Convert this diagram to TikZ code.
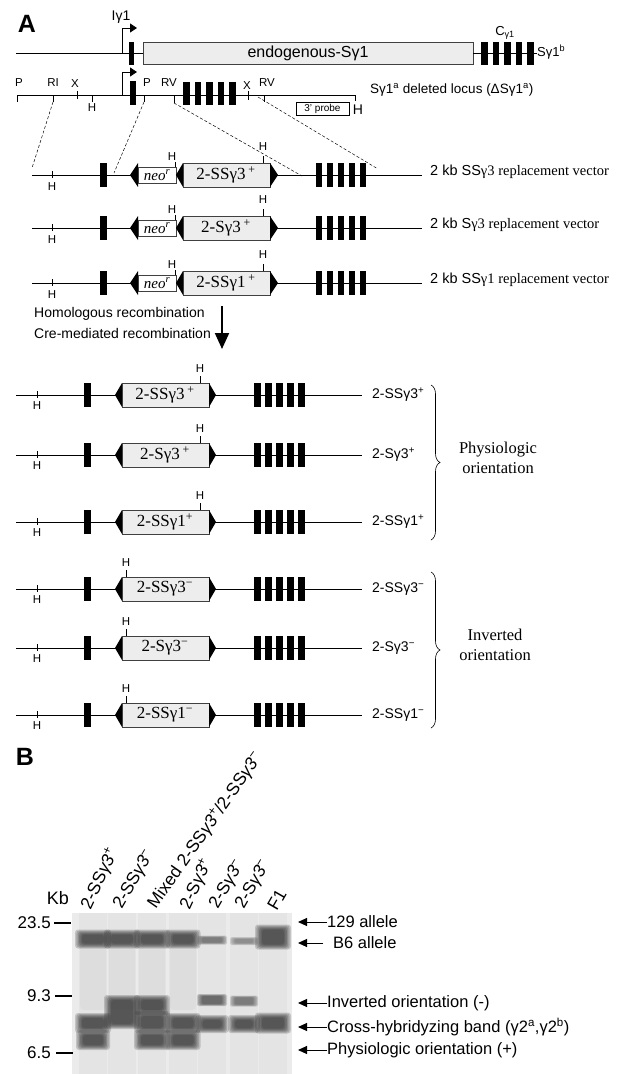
\documentclass[tikz,border=0pt]{standalone}
\usepackage{fontspec}
\setmainfont{Liberation Sans}
\newfontfamily\serf{Liberation Serif}
\usetikzlibrary{arrows.meta,decorations.pathreplacing}
\newcommand\myfs[1]{\fontsize{#1}{#1}\selectfont}
\definecolor{gelbg}{gray}{0.92}
\definecolor{lanec}{gray}{0.895}
\definecolor{smearc}{gray}{0.86}
\definecolor{bandc}{gray}{0.15}
\definecolor{boxg}{gray}{0.93}
\tikzset{
 ln/.style={line width=0.8pt},
 tck/.style={line width=0.6pt},
 gbox/.style={draw=black!75, fill=boxg, line width=0.7pt},
 nbox/.style={draw=black!75, fill=white, line width=0.7pt},
 sm/.style={inner sep=0pt, font=\myfs{11.5}},
 prom/.style={line width=0.8pt, -{Triangle[length=7pt,width=9pt]}},
 dsh/.style={dash pattern=on 3pt off 2pt, line width=0.5pt},
 gelarrow/.style={line width=1pt, -{Triangle[length=9pt,width=8pt]}},
 lane/.style={rotate=60, anchor=south west, inner sep=0pt, font=\myfs{17.5}},
 glab/.style={anchor=west, inner sep=0pt, font=\myfs{16.5}},
}
\newcommand\vrow[4]{%
\begin{scope}[yshift=-#1pt]
 \draw[ln] (32,0) -- (422,0);
 \draw[tck] (52,-4) -- (52,3);
 \node[sm] (#4h1) at (52,12) {H};
 \fill (100,-12) rectangle (107,12);
 \fill (130,0) -- (138,-12) -- (138,12) -- cycle;
 \draw[nbox] (138,-8) rectangle (176,8);
 \node[inner sep=0pt] (#4neo) at (157,0) {\serf\itshape\myfs{15}neo\textsuperscript{r}};
 \fill (176,0) -- (183,-12) -- (183,12) -- cycle;
 \draw[gbox] (183,-12) rectangle (270,12);
 \node[inner sep=0pt] (#4box) at (226,0) {\serf\myfs{17}#2};
 \fill (270,-12) -- (278,0) -- (270,12) -- cycle;
 \draw[tck] (175,-8) -- (175,-13);
 \node[sm] (#4h2) at (172,-18) {H};
 \draw[tck] (263,-12) -- (263,-19);
 \node[sm] (#4h3) at (263,-28) {H};
 \foreach \k in {0,...,4} \fill ({316+11*\k},-12) rectangle +(6,24);
 \node[anchor=west, inner sep=0pt] (#4lab) at (430,-3) {\myfs{14.5}#3};
\end{scope}}
\newcommand\orow[5]{%
\begin{scope}[yshift=-#1pt]
 \draw[ln] (16,0) -- (362,0);
 \draw[tck] (37,-4) -- (37,3);
 \node[sm] (#5h1) at (37,11) {H};
 \fill (84,-12) rectangle (91,12);
 \fill (115,0) -- (122,-12) -- (122,12) -- cycle;
 \draw[gbox] (122,-12) rectangle (209,12);
 \node[inner sep=0pt] (#5box) at (165,0) {\serf\myfs{17}#2};
 \fill (209,-12) -- (216,0) -- (209,12) -- cycle;
 \draw[tck] (#4,-12) -- (#4,-19);
 \node[sm] (#5h2) at (#4,-26) {H};
 \foreach \k in {0,...,4} \fill ({254+11*\k},-12) rectangle +(6.5,24);
 \node[anchor=west, inner sep=0pt] (#5lab) at (372,0) {\myfs{14}#3};
\end{scope}}
% soft gel band: x, y, width, height, colour
\newcommand\band[5]{%
 \foreach \i in {0,...,5}
  \fill[#5, opacity=0.2, rounded corners=3pt] ({#1-#3/2-4+1.4*\i},{#2-#4/2-3+\i}) rectangle ({#1+#3/2+4-1.4*\i},{#2+#4/2+3-\i});
}
\newcommand\wband[5]{%
 \foreach \i in {0,...,4}
  \fill[#5, opacity=0.2, rounded corners=1.5pt] ({#1-#3/2-3+1.2*\i},{#2-#4/2-2+0.5*\i}) rectangle ({#1+#3/2+3-1.2*\i},{#2+#4/2+2-0.5*\i});
}
\begin{document}
\begin{tikzpicture}[x=1pt,y=-1pt]
\useasboundingbox (0,0) rectangle (636,1074);

% ---------- Part A ----------
\node[font=\bfseries\myfs{25}, inner sep=0pt] (A) at (27,24) {A};

% endogenous locus
\draw[ln] (16,53) -- (129,53);
\fill (129,42) rectangle (134,65);
\draw[ln] (134,53) -- (143,53);
\draw[gbox] (143,42) rectangle (473,64);
\node[inner sep=0pt] (endo) at (308,53) {\myfs{16}endogenous-Sγ1};
\draw[ln] (473,53) -- (537,53);
\foreach \k in {0,...,4} \fill ({481+11.5*\k},42) rectangle +(6.5,23);
\node[anchor=west, inner sep=0pt] (sg1b) at (537,52) {\myfs{13}Sγ1\textsuperscript{b}};
\node[inner sep=0pt] (cg1) at (505,33) {\myfs{13}C\textsubscript{γ1}};
\coordinate (p1) at (122,53);
\coordinate (p1t) at (137,28);
\draw[prom] (p1) |- (p1t);
\node[inner sep=0pt] (ig1) at (121,17) {\myfs{14}Iγ1};

% deleted locus
\draw[ln] (17,95) -- (355,95);
\draw[tck] (17,95) -- (17,102);
\draw[tck] (53,95) -- (53,102);
\draw[tck] (77,91) -- (77,99);
\draw[tck] (92,95) -- (92,102);
\draw[tck] (144,95) -- (144,102);
\draw[tck] (174,95) -- (174,103);
\draw[tck] (248,91) -- (248,100);
\draw[tck] (264,95) -- (264,102);
\draw[tck] (355,95) -- (355,101);
\node[sm] (lP1) at (19,83) {P};
\node[sm] (lRI) at (53,83) {RI};
\node[sm] (lX1) at (75,84) {X};
\node[sm] (lH1) at (92,108) {H};
\node[sm] (lP2) at (147,83) {P};
\node[sm] (lRV1) at (169,83) {RV};
\node[sm] (lX2) at (247,86) {X};
\node[sm] (lRV2) at (267,83) {RV};
\coordinate (p2) at (122,95);
\coordinate (p2t) at (137,72);
\draw[prom] (p2) |- (p2t);
\fill (130,81) rectangle (136,105);
\foreach \k in {0,...,4} \fill ({183+11.6*\k},82) rectangle +(6.5,23);
\draw[line width=0.6pt] (296,102) rectangle (349,115);
\node[inner sep=0pt] (probe) at (322.5,108.5) {\myfs{10}3' probe};
\node[inner sep=0pt] (hprobe) at (358,110) {\myfs{14}H};
\node[anchor=west, inner sep=0pt] (dellab) at (370,90) {\myfs{13.5}Sγ1\textsuperscript{a} deleted locus (ΔSγ1\textsuperscript{a})};

% dashed homology lines
\coordinate (d1a) at (53,102); \coordinate (d1b) at (32,168);
\coordinate (d2a) at (144,102); \coordinate (d2b) at (114,173);
\coordinate (d3a) at (174,103); \coordinate (d3b) at (302,176);
\coordinate (d4a) at (258,97); \coordinate (d4b) at (378,169);
\draw[dsh] (d1a) -- (d1b);
\draw[dsh] (d2a) -- (d2b);
\draw[dsh] (d3a) -- (d3b);
\draw[dsh] (d4a) -- (d4b);

% replacement vectors
\vrow{175}{2-SSγ3\,\textsuperscript{+}}{2 kb SS{\serf γ3 replacement vector}}{va}
\vrow{228}{2-Sγ3\,\textsuperscript{+}}{2 kb S{\serf γ3 replacement vector}}{vb}
\vrow{283}{2-SSγ1\,\textsuperscript{+}}{2 kb SS{\serf γ1 replacement vector}}{vc}

% recombination arrow
\node[anchor=west, inner sep=0pt] (hom) at (34,314) {\myfs{14}Homologous recombination};
\node[anchor=west, inner sep=0pt] (cre) at (34,333) {\myfs{14}Cre-mediated recombination};
\coordinate (ra) at (222,306);
\coordinate (rb) at (222,349);
\draw[line width=2pt, -{Triangle[length=16pt,width=14pt]}] (ra) -- (rb);

% resulting alleles
\orow{395}{2-SSγ3\,\textsuperscript{+}}{2-SSγ3\textsuperscript{+}}{200}{pa}
\orow{455}{2-Sγ3\,\textsuperscript{+}}{2-Sγ3\textsuperscript{+}}{200}{pb}
\orow{522}{2-SSγ1\textsuperscript{+}}{2-SSγ1\textsuperscript{+}}{200}{pc}
\orow{589}{2-SSγ3\textsuperscript{−}}{2-SSγ3\textsuperscript{−}}{126}{ia}
\orow{648}{2-Sγ3\textsuperscript{−}}{2-Sγ3\textsuperscript{−}}{126}{ib}
\orow{715}{2-SSγ1\textsuperscript{−}}{2-SSγ1\textsuperscript{−}}{126}{ic}

\draw[decorate, decoration={brace, amplitude=9pt}, line width=0.6pt] (431,385) -- (431,540);
\draw[decorate, decoration={brace, amplitude=9pt}, line width=0.6pt] (431,572) -- (431,728);
\node[align=center, inner sep=0pt, font=\serf\myfs{16.5}] (phys) at (498,458) {Physiologic\\[4pt]orientation};
\node[align=center, inner sep=0pt, font=\serf\myfs{16.5}] (inv) at (495,645) {Inverted\\[4pt]orientation};

% ---------- Part B ----------
\node[font=\bfseries\myfs{25}, inner sep=0pt] (B) at (25,757) {B};
\fill[gelbg] (72,913) rectangle (292,1074);
\foreach \x in {93,122,152,183,212,244,273} \fill[lanec] ({\x-14},913) rectangle ({\x+14},1074);
\foreach \x in {93,122,152,183} \fill[smearc, opacity=0.7, rounded corners=4pt] ({\x-13},944) rectangle ({\x+13},1010);

% B6 / 129 bands
\band{93}{939}{28}{13}{bandc}
\band{122}{939}{28}{13}{bandc}
\band{152}{939}{28}{13}{bandc}
\band{183}{939}{27}{13}{bandc}
\wband{212}{940}{24}{5}{black!70}
\wband{244}{941}{22}{4}{black!60}
\band{273}{937}{28}{19}{bandc}
% lower bands
\band{93}{1023}{28}{14}{bandc}
\band{93}{1040}{26}{14}{bandc}
\band{122}{1012}{28}{28}{bandc}
\band{152}{1005}{28}{14}{bandc}
\band{152}{1022}{28}{16}{bandc}
\band{152}{1040}{28}{14}{bandc}
\band{183}{1023}{27}{14}{bandc}
\band{183}{1040}{27}{14}{bandc}
\wband{212}{1000}{24}{8}{black!80}
\wband{244}{1001}{22}{7}{black!70}
\band{212}{1024}{25}{12}{bandc}
\band{244}{1024}{24}{12}{bandc}
\band{273}{1023}{28}{15}{bandc}

% size markers
\node[inner sep=0pt] (kb) at (58,898) {\myfs{18}Kb};
\node[anchor=east, inner sep=0pt] (m235) at (51,923) {\myfs{17}23.5};
\node[anchor=east, inner sep=0pt] (m93) at (51,996) {\myfs{17}9.3};
\node[anchor=east, inner sep=0pt] (m65) at (51,1053) {\myfs{17}6.5};
\draw[line width=1.6pt] (54,923) -- (71,923);
\draw[line width=1.6pt] (55,996) -- (72,996);
\draw[line width=1.6pt] (56,1053) -- (73,1053);

% lane labels
\node[lane, rotate=5] (n1) at (94,912) {2-SS\textit{γ3}\textsuperscript{+}};
\node[lane] (n2) at (125,912) {2-SS\textit{γ3}\textsuperscript{−}};
\node[lane, rotate=-5] (n3) at (159,912) {Mixed 2-SS\textit{γ3}\textsuperscript{+}/2-SS\textit{γ3}\textsuperscript{−}};
\node[lane, rotate=5] (n4) at (193,912) {2-S\textit{γ3}\textsuperscript{+}};
\node[lane] (n5) at (221,912) {2-S\textit{γ3}\textsuperscript{−}};
\node[lane] (n6) at (247,912) {2-S\textit{γ3}\textsuperscript{−}};
\node[lane] (n7) at (277,912) {F1};

% band labels
\node[glab] (l129) at (327,922) {129 allele};
\node[glab] (lb6) at (333,943) {B6 allele};
\node[glab] (linv) at (327,1003) {Inverted orientation (-)};
\node[glab] (lcross) at (327,1027) {Cross-hybridyzing band (γ2\textsuperscript{a},γ2\textsuperscript{b})};
\node[glab] (lphys) at (327,1050) {Physiologic orientation (+)};
\coordinate (a129) at (298,922);
\coordinate (ab6) at (298,943);
\coordinate (ainv) at (298,1003);
\coordinate (across) at (298,1027);
\coordinate (aphys) at (298,1050);
\draw[gelarrow] (l129.west) -- (a129);
\draw[gelarrow] ([xshift=-10pt]lb6.west) -- (ab6);
\draw[gelarrow] (linv.west) -- (ainv);
\draw[gelarrow] (lcross.west) -- (across);
\draw[gelarrow] (lphys.west) -- (aphys);
\end{tikzpicture}
\end{document}
